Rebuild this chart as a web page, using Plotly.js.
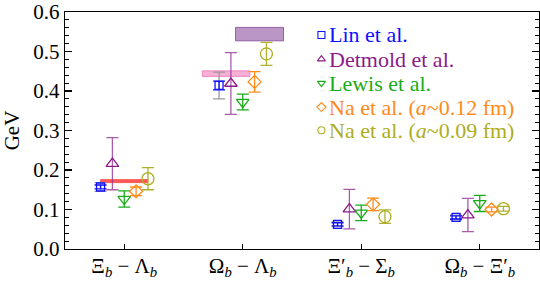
<!DOCTYPE html>
<html>
<head>
<meta charset="utf-8">
<script src="https://cdn.plot.ly/plotly-3.0.1.min.js"></script>
<style>html,body{margin:0;padding:0;background:#fff}#chart{width:540px;height:282px}</style>
</head>
<body>
<div id="chart"></div>
<script>
// ---- data ----
const categories = [
  'Ξ<sub><i>b</i></sub> − Λ<sub><i>b</i></sub>',
  'Ω<sub><i>b</i></sub> − Λ<sub><i>b</i></sub>',
  'Ξ′<sub><i>b</i></sub> − Σ<sub><i>b</i></sub>',
  'Ω<sub><i>b</i></sub> − Ξ′<sub><i>b</i></sub>'
];
const seriesNames = ['Lin et al.', 'Detmold et al.', 'Lewis et al.',
  'Na et al. (<i>a</i>~0.12 fm)', 'Na et al. (<i>a</i>~0.09 fm)'];
const linVals = [0.157, 0.414, 0.0625, 0.080];
const linStat = [0.005, 0.011, 0.004, 0.004];
const linSys  = [0.011, 0.034, 0.006, 0.006];
const detmoldVals = [0.216, 0.419, 0.101, 0.086];
const detmoldErr  = [0.066, 0.078, 0.050, 0.042];
const lewisVals = [0.1265, 0.372, 0.0915, 0.1155];
const lewisErr  = [0.0205, 0.020, 0.0195, 0.0205];
const na12Vals = [0.146, 0.423, 0.113, 0.100];
const na12Err  = [0.011, 0.026, 0.016, 0.006];
const na09Vals = [0.178, 0.494, 0.082, 0.102];
const na09Err  = [0.028, 0.029, 0.017, 0.006];
// experimental bands: [x0, x1, y0, y1]
const redBand    = [0.80, 1.20, 0.168, 0.176];
const pinkBand   = [1.658, 2.06, 0.437, 0.451];
const purpleBand = [1.939, 2.344, 0.527, 0.561];
const yTickVals = [0, 0.1, 0.2, 0.3, 0.4, 0.5, 0.6];
const yTickText = ['0.0', '0.1', '0.2', '0.3', '0.4', '0.5', '0.6'];

// ---- styles ----
const FONT = 'Liberation Serif, Times New Roman, serif';
const colors = ['#1010ff', '#8a1a8a', '#1aab1a', '#ff8a1a', '#adad1e'];
const errColors = ['#1010ff', 'rgba(150,50,150,0.8)', '#1aab1a', '#ff8a1a', '#b0b030'];
const symbols = ['square-open', 'triangle-up-open', 'triangle-down-open', 'diamond-open', 'circle-open'];
const sizes = [8, 11, 11, 10, 12];
const offsets = [-0.2, -0.1, 0, 0.1, 0.2];
const vals = [linVals, detmoldVals, lewisVals, na12Vals, na09Vals];
const errs = [linStat, detmoldErr, lewisErr, na12Err, na09Err];
const idx = categories.map((c, i) => i + 1);

function band(b, fill, line, lw) {
  return {x: [b[0], b[1], b[1], b[0], b[0]], y: [b[2], b[2], b[3], b[3], b[2]],
    mode: 'lines', fill: 'toself', fillcolor: fill,
    line: {color: line, width: lw}, hoverinfo: 'skip', showlegend: false};
}

const traces = [];
traces.push(band(redBand, 'rgba(255,30,30,0.75)', 'rgba(255,60,60,0.6)', 1));
traces.push(band(pinkBand, 'rgba(240,110,180,0.55)', 'rgba(235,120,185,0.8)', 1));
traces.push(band(purpleBand, 'rgba(140,80,160,0.6)', 'rgba(130,70,150,0.8)', 1));

// Lin systematic (gray)
traces.push({x: idx.map(v => v + offsets[0]), y: linVals, mode: 'markers',
  marker: {size: 1, color: 'rgba(0,0,0,0)'},
  error_y: {type: 'data', array: linSys, visible: true, color: '#9a9a9a', thickness: 1.3, width: 6},
  showlegend: false, hoverinfo: 'skip'});

for (let s = 0; s < 5; s++) {
  traces.push({x: idx.map(v => v + offsets[s]), y: vals[s], mode: 'markers', name: seriesNames[s],
    marker: {symbol: symbols[s], size: sizes[s], color: colors[s], line: {width: 1.3, color: colors[s]}},
    error_y: {type: 'data', array: errs[s], visible: true, color: errColors[s], thickness: 1.3, width: 6},
    showlegend: false});
}

// legend markers on an overlay axis (paper-like 0..1 range)
const legY = [0.903, 0.801, 0.700, 0.599, 0.501];
for (let s = 0; s < 5; s++) {
  traces.push({x: [0.541], y: [legY[s]], xaxis: 'x2', yaxis: 'y2', mode: 'markers',
    marker: {symbol: symbols[s], size: 7, color: colors[s], line: {width: 1.1, color: colors[s]}},
    showlegend: false, hoverinfo: 'skip'});
}

const annotations = seriesNames.map((n, s) => ({
  xref: 'paper', yref: 'paper', x: 0.557, y: legY[s], xanchor: 'left', yanchor: 'middle',
  borderpad: 0, borderwidth: 0,
  text: n, showarrow: false, font: {size: 22, color: colors[s], family: FONT}
}));

const layout = {
  width: 540, height: 282,
  margin: {l: 65, r: 1, t: 12, b: 33},
  paper_bgcolor: '#fff', plot_bgcolor: '#fff',
  font: {family: FONT, size: 20, color: '#000'},
  showlegend: false,
  xaxis: {range: [0.5, 4.5], tickvals: idx, ticktext: categories, ticks: 'inside', ticklen: 5,
    tickwidth: 1.2, tickcolor: '#000', showline: true, mirror: true, linecolor: '#000', linewidth: 1.3,
    showgrid: false, zeroline: false, tickfont: {size: 21, family: FONT}, ticklabelstandoff: -3},
  yaxis: {range: [0, 0.6], tickvals: yTickVals, ticktext: yTickText, ticks: 'inside', ticklen: 7,
    tickwidth: 1.2, tickcolor: '#000', showline: true, mirror: 'ticks', linecolor: '#000', linewidth: 1.3,
    showgrid: false, zeroline: false, tickfont: {size: 21, family: FONT},
    minor: {dtick: 0.02, ticks: 'inside', ticklen: 4, tickwidth: 1, tickcolor: '#000', showgrid: false},
    title: {text: 'GeV', font: {size: 21, family: FONT}, standoff: 8}},
  xaxis2: {overlaying: 'x', range: [0, 1], visible: false, fixedrange: true},
  yaxis2: {overlaying: 'y', range: [0, 1], visible: false, fixedrange: true},
  annotations: annotations
};

Plotly.newPlot('chart', traces, layout, {staticPlot: true});
</script>
</body>
</html>
